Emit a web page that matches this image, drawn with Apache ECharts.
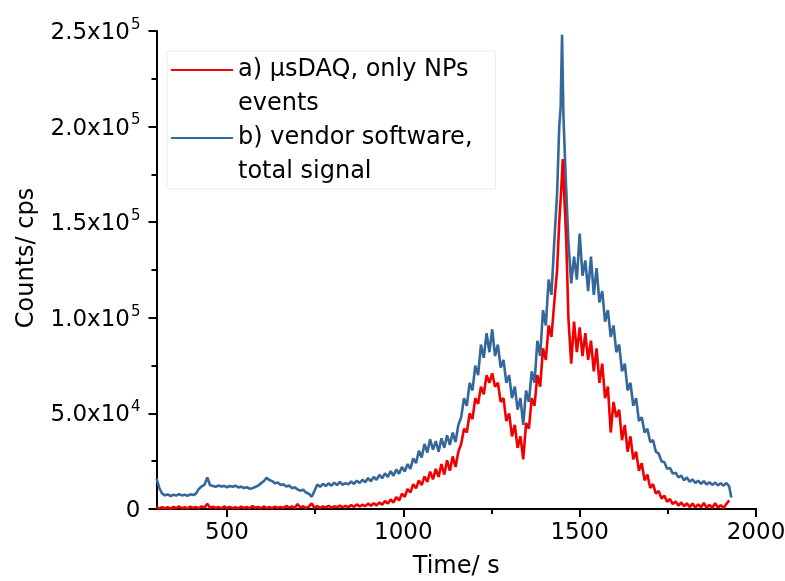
<!DOCTYPE html>
<html>
<head>
<meta charset="utf-8">
<script src="https://cdn.jsdelivr.net/npm/echarts@6/dist/echarts.min.js"></script>
<style>html,body{margin:0;padding:0;background:#fff;}#chart{width:785px;height:581px;}</style>
</head>
<body>
<div id="chart"></div>
<script>
// Legend / series names
const seriesNames = ['a) μsDAQ, only NPs\nevents', 'b) vendor software,\ntotal signal'];
const seriesColors = ['#f00000', '#34679a'];

// X axis ticks
const xMajorTicks = [500, 1000, 1500, 2000];
const xMinorTicks = [750, 1250, 1750];
// Y axis ticks (value, mantissa, exponent)
const yTickValues = [0, 50000, 100000, 150000, 200000, 250000];
const yTickMantissas = ['0', '5.0', '1.0', '1.5', '2.0', '2.5'];
const yTickExponents = ['', '4', '5', '5', '5', '5'];

// a) μsDAQ, only NPs events  [time s, counts cps]
const countsA = [
[300,800],[308,300],[316,1000],[324,400],[332,900],[340,200],[348,1100],[356,500],[364,1300],[372,400],
[380,900],[388,300],[396,1200],[404,600],[412,1000],[420,400],[428,1400],[436,700],[444,2800],[452,600],
[460,1200],[468,500],[476,1000],[484,300],[492,1300],[500,500],[508,1100],[516,400],[524,900],[532,300],
[540,1200],[548,500],[556,1000],[564,400],[572,1500],[580,600],[588,1100],[596,400],[604,1300],[612,500],
[620,1000],[628,400],[636,1200],[644,600],[652,1000],[660,500],[668,1600],[676,700],[684,1300],[692,500],
[700,2600],[708,800],[716,1400],[724,600],[732,1200],[740,2900],[748,700],[756,1500],[764,600],[772,1300],
[780,800],[788,1700],[796,700],[804,1400],[812,900],[820,1800],[828,800],[836,1600],[844,1000],[852,2000],
[860,1100],[868,2400],[876,1300],[884,2200],[892,1500],[900,2800],[908,1700],[916,3000],[924,1900],[932,3400],
[940,2300],[948,4200],[956,2800],[964,5000],[972,3400],[980,6200],[988,4500],[996,8000],[1004,6400],[1012,10500],
[1020,8600],[1028,13000],[1036,10800],[1044,15000],[1052,12500],[1060,17000],[1068,14200],[1076,19500],[1084,15500],[1092,21000],
[1100,16800],[1108,23500],[1116,18000],[1124,25500],[1132,20000],[1140,27500],[1148,22000],[1156,30000],[1164,34000],[1172,42000],
[1180,40000],[1188,50000],[1196,47000],[1204,58000],[1212,55000],[1220,64000],[1228,60000],[1236,70000],[1244,66000],[1252,71000],
[1260,64000],[1268,66000],[1276,56000],[1284,58000],[1292,46000],[1300,50000],[1308,38000],[1316,44000],[1324,32000],[1332,38000],
[1340,26000],[1348,45000],[1356,42000],[1364,58000],[1372,54000],[1380,70000],[1388,64000],[1396,84000],[1404,78000],[1412,96000],
[1420,90000],[1428,108000],[1436,125000],[1442,150000],[1448,168000],[1452,183000],[1456,165000],[1462,140000],[1468,100000],[1476,76000],
[1484,98000],[1492,82000],[1500,95000],[1508,80000],[1516,92000],[1524,78000],[1532,88000],[1540,72000],[1548,84000],[1556,66000],
[1564,76000],[1572,58000],[1580,64000],[1588,40000],[1596,56000],[1604,48000],[1612,52000],[1620,36000],[1628,44000],[1636,30000],
[1644,38000],[1652,26000],[1660,30000],[1668,20000],[1676,24000],[1684,15000],[1692,18000],[1700,11000],[1708,13000],[1716,8000],
[1724,9500],[1732,5500],[1740,7000],[1748,3800],[1756,5200],[1764,2600],[1772,4000],[1780,1800],[1788,3400],[1796,1400],
[1804,3000],[1812,1000],[1820,2800],[1828,800],[1836,2400],[1844,900],[1852,3200],[1860,700],[1868,2200],[1876,600],
[1884,3000],[1892,800],[1900,2000],[1908,500],[1916,2600],[1924,4500]
];

// b) vendor software, total signal  [time s, counts cps]
const countsB = [
[300,16000],[308,11000],[316,8000],[324,7200],[332,7600],[340,6800],[348,7400],[356,7000],[364,7800],[372,7100],
[380,7500],[388,6900],[396,7700],[404,7300],[412,8000],[420,10500],[428,11800],[436,12600],[444,16500],[452,12400],
[460,12000],[468,11600],[476,12300],[484,11800],[492,12100],[500,11400],[508,12000],[516,11600],[524,12200],[532,11300],
[540,11700],[548,11000],[556,11400],[564,10600],[572,10900],[580,11500],[588,12200],[596,13400],[604,14500],[612,16300],
[620,15200],[628,14600],[636,13400],[644,13900],[652,12600],[660,12900],[668,11800],[676,12300],[684,10900],[692,11400],
[700,10200],[708,9600],[716,10100],[724,8600],[732,8000],[740,6400],[748,9500],[756,12800],[764,11600],[772,13200],
[780,12000],[788,13400],[796,12200],[804,13800],[812,12500],[820,14200],[828,12700],[836,13500],[844,12900],[852,14400],
[860,13100],[868,14800],[876,13600],[884,15300],[892,14000],[900,16200],[908,14500],[916,16800],[924,15200],[932,17900],
[940,16100],[948,18600],[956,16800],[964,19800],[972,17400],[980,20600],[988,18500],[996,22000],[1004,19600],[1012,23500],
[1020,21000],[1028,26500],[1036,24000],[1044,30500],[1052,27000],[1060,34000],[1068,29500],[1076,36500],[1084,31000],[1092,35500],
[1100,30000],[1108,37000],[1116,32000],[1124,38500],[1132,33500],[1140,40000],[1148,35000],[1156,44000],[1164,48000],[1172,58000],
[1180,54000],[1188,66000],[1196,62000],[1204,75000],[1212,70000],[1220,86000],[1228,79000],[1236,92000],[1244,82000],[1252,94000],
[1260,80000],[1268,86000],[1276,74000],[1284,78000],[1292,66000],[1300,70000],[1308,58000],[1316,64000],[1324,52000],[1332,58000],
[1340,44000],[1348,62000],[1356,56000],[1364,72000],[1372,66000],[1380,88000],[1388,80000],[1396,104000],[1404,96000],[1412,120000],
[1420,112000],[1428,140000],[1436,165000],[1442,200000],[1446,210000],[1450,248000],[1454,205000],[1460,175000],[1468,140000],[1476,118000],
[1484,132000],[1492,120000],[1500,144000],[1508,122000],[1516,130000],[1524,114000],[1532,132000],[1540,112000],[1548,126000],[1556,108000],
[1564,114000],[1572,98000],[1580,104000],[1588,90000],[1596,96000],[1604,82000],[1612,86000],[1620,72000],[1628,76000],[1636,62000],
[1644,66000],[1652,54000],[1660,58000],[1668,46000],[1676,48000],[1684,40000],[1692,42000],[1700,35000],[1708,36000],[1716,30000],
[1724,29000],[1732,25000],[1740,24500],[1748,21000],[1756,21500],[1764,18500],[1772,19000],[1780,16500],[1788,17500],[1796,15000],
[1804,16500],[1812,14200],[1820,15500],[1828,13600],[1836,14800],[1844,13200],[1852,14600],[1860,12800],[1868,14000],[1876,12600],
[1884,13800],[1892,12400],[1900,13500],[1908,12200],[1916,13600],[1924,11800],[1930,6000]
];

const FONT = 'DejaVu Sans';
const chart = echarts.init(document.getElementById('chart'), null, {renderer: 'canvas'});

function yLabel(v) {
  const i = yTickValues.indexOf(v);
  if (i < 0) return '';
  if (!yTickExponents[i]) return '{m|' + yTickMantissas[i] + '}';
  return '{m|' + yTickMantissas[i] + 'x10}{e|' + yTickExponents[i] + '}';
}

const legendIcon = 'path://M0,0L0,0M62,68L62,68M0,15.9L62,15.9L62,18.1L0,18.1Z';

chart.setOption({
  animation: false,
  backgroundColor: '#fff',
  grid: {left: 156.5, right: 29, top: 31, bottom: 72, containLabel: false, outerBoundsMode: 'none'},
  legend: {
    data: seriesNames,
    orient: 'vertical',
    left: 167, top: 51,
    padding: [2, 23, 0, 4],
    itemWidth: 62, itemHeight: 68, itemGap: 0,
    icon: legendIcon,
    backgroundColor: '#fff',
    borderColor: '#ececec', borderWidth: 1,
    selectedMode: false,
    textStyle: {fontFamily: FONT, fontSize: 24, lineHeight: 34, color: '#000'}
  },
  xAxis: [{
    type: 'value', min: 300, max: 2000,
    name: 'Time/ s', nameLocation: 'middle', nameGap: 46,
    nameTextStyle: {fontFamily: FONT, fontSize: 24, color: '#000'},
    axisLine: {show: true, onZero: false, lineStyle: {color: '#000', width: 2}},
    axisTick: {show: true, inside: false, length: 8, customValues: xMajorTicks, lineStyle: {color: '#000', width: 2}},
    axisLabel: {show: true, customValues: xMajorTicks, margin: 13, fontFamily: FONT, fontSize: 23, color: '#000',
      formatter: function (v) { return String(v); }},
    splitLine: {show: false}
  }, {
    type: 'value', min: 300, max: 2000, position: 'bottom', gridIndex: 0,
    axisLine: {show: true, onZero: false, lineStyle: {color: '#000', width: 2}},
    axisTick: {show: true, inside: false, length: 5, customValues: xMinorTicks, lineStyle: {color: '#000', width: 2}},
    axisLabel: {show: false},
    splitLine: {show: false}
  }],
  yAxis: {
    type: 'value', min: 0, max: 250000, interval: 50000,
    name: 'Counts/ cps', nameLocation: 'middle', nameGap: 118,
    nameTextStyle: {fontFamily: FONT, fontSize: 24, color: '#000', padding: [0, 0, 0, 24]},
    axisLine: {show: true, lineStyle: {color: '#000', width: 2}},
    axisTick: {show: true, inside: false, length: 8, lineStyle: {color: '#000', width: 2}},
    minorTick: {show: true, splitNumber: 2, length: 5, lineStyle: {color: '#000', width: 2}},
    axisLabel: {
      margin: 16,
      formatter: yLabel,
      rich: {
        m: {fontFamily: FONT, fontSize: 23, color: '#000', lineHeight: 27, verticalAlign: 'bottom'},
        e: {fontFamily: FONT, fontSize: 15, color: '#000', lineHeight: 27, verticalAlign: 'top', padding: [0, 0, 8, 1]}
      }
    },
    splitLine: {show: false}
  },
  series: [{
    name: seriesNames[1], type: 'line', data: countsB, xAxisIndex: 0,
    showSymbol: false, symbol: 'none', color: seriesColors[1],
    lineStyle: {width: 2.6, color: seriesColors[1]}, z: 2
  }, {
    name: seriesNames[0], type: 'line', data: countsA, xAxisIndex: 0,
    showSymbol: false, symbol: 'none', color: seriesColors[0],
    lineStyle: {width: 2.6, color: seriesColors[0]}, z: 3
  }]
});
</script>
</body>
</html>
